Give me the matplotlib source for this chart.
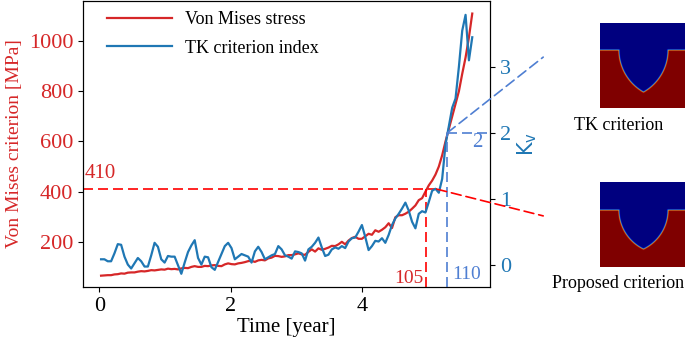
import matplotlib
matplotlib.use("Agg")

import matplotlib.pyplot as plt
import numpy as np
from matplotlib.patches import ConnectionPatch

# ── data ─────────────────────────────────────────────
von_mises = [
    65, 66, 67, 67, 70, 71, 74, 73, 77, 78,
    78, 81, 83, 82, 84, 87, 86, 88, 90, 89,
    93, 91, 92, 90, 94, 96, 95, 100, 103, 100,
    100, 104, 103, 106, 107, 104, 103, 110, 114, 111,
    110, 114, 116, 119, 123, 124, 120, 126, 128, 126,
    134, 137, 144, 143, 140, 142, 147, 147, 150, 154,
    150, 148, 160, 170, 161, 174, 168, 172, 177, 184,
    183, 190, 200, 190, 205, 215, 220, 212, 212, 222,
    232, 228, 246, 240, 248, 258, 274, 255, 298, 306,
    306, 312, 320, 332, 345, 366, 374, 400, 425, 444,
    468, 500, 545, 600, 650, 700, 750, 800, 870, 935,
    1015, 1110,
]
tk_index = [
    0.08, 0.08, 0.05, 0.05, 0.17, 0.31, 0.30, 0.12, 0.00, -0.06,
    0.02, 0.10, 0.05, -0.03, -0.03, 0.14, 0.33, 0.27, 0.08, 0.03,
    0.13, 0.12, 0.12, -0.01, -0.14, 0.03, 0.19, 0.29, 0.37, 0.10,
    0.00, 0.12, 0.11, -0.04, -0.08, 0.04, 0.16, 0.28, 0.33, 0.25,
    0.08, 0.12, 0.16, 0.14, 0.12, 0.03, 0.20, 0.27, 0.19, 0.08,
    0.11, 0.14, 0.16, 0.28, 0.23, 0.14, 0.12, 0.09, 0.20, 0.19,
    0.17, 0.06, 0.23, 0.27, 0.33, 0.41, 0.26, 0.13, 0.15, 0.23,
    0.26, 0.24, 0.28, 0.25, 0.35, 0.40, 0.41, 0.50, 0.60, 0.42,
    0.22, 0.28, 0.36, 0.35, 0.40, 0.33, 0.45, 0.60, 0.70, 0.77,
    0.85, 0.94, 0.82, 0.65, 0.55, 0.77, 0.81, 0.79, 0.95, 1.12,
    1.15, 1.09, 1.30, 1.82, 2.10, 2.38, 2.52, 3.00, 3.55, 3.79,
    3.10, 3.45,
]
time_start, time_end = 0.025, 5.68
time = np.linspace(time_start, time_end, len(von_mises))

vm_threshold = 410      # MPa
t_vm, t_tk = 4.98, 5.30  # crossing times
kv_threshold = 2
label_vm, label_tk = "105", "110"

# notch geometry of the two snapshots (pixels: band, left, right, depth)
notch_tk = (27, 19, 68, 42)
notch_prop = (28, 19, 68, 39)

RED = "#d62728"
BLUE = "#1f77b4"
LBLUE = "#4f7fd2"

plt.rcParams["font.family"] = ["Liberation Serif", "DejaVu Serif"]
plt.rcParams["mathtext.fontset"] = "dejavusans"

fig = plt.figure(figsize=(6.85, 3.4), dpi=100)
ax = fig.add_axes([0.1212, 0.156, 0.5941, 0.841])
ax2 = ax.twinx()

l1, = ax.plot(time, von_mises, color=RED, lw=1.6, label="Von Mises stress")
l2, = ax2.plot(time, tk_index, color=BLUE, lw=1.6, label="TK criterion index")

ax.set_xlim(-0.25, 5.95)
ax.set_ylim(20, 1160)
ax2.set_ylim(-0.34, 4.0)
ax.set_xticks([0, 2, 4])
ax.set_yticks([200, 400, 600, 800, 1000])
ax2.set_yticks([0, 1, 2, 3])
ax.tick_params(labelsize=16)
ax.tick_params(axis="y", labelcolor=RED)
ax2.tick_params(axis="y", labelsize=16, labelcolor=BLUE)

ax.set_xlabel("Time [year]", fontsize=15, labelpad=2)
ax.set_ylabel("Von Mises criterion [MPa]", fontsize=14, color=RED, labelpad=4)
ax2.set_ylabel(r"$\mathrm{K_v}$", fontsize=15, color=BLUE, labelpad=3)

ax.legend([l1, l2], [l1.get_label(), l2.get_label()], loc="upper left",
          frameon=False, fontsize=13, handlelength=3.6, handletextpad=0.7,
          labelspacing=0.65, bbox_to_anchor=(0.02, 1.022))

dash = dict(lw=1.2, dashes=(6, 3), clip_on=False)

# von Mises threshold
ax.plot([-0.25, 5.14], [vm_threshold, vm_threshold], color="red", **dash)
ax.plot([t_vm, t_vm], [20, vm_threshold], color="red", **dash)
ax.text(-0.23, 433, str(vm_threshold), color=RED, fontsize=15, va="bottom")
ax.text(4.93, 36, label_vm, color=RED, fontsize=14, ha="right", va="baseline")
con = ConnectionPatch(xyA=(5.14, vm_threshold), coordsA=ax.transData,
                      xyB=(0.793, 0.365), coordsB=fig.transFigure,
                      color="red", lw=1.2, linestyle=(0, (6, 3)))
fig.add_artist(con)

# TK threshold
ax2.plot([t_tk, t_tk], [-0.34, kv_threshold], color=LBLUE, **dash)
ax2.plot([t_tk, 5.95], [kv_threshold, kv_threshold], color=LBLUE, **dash)
ax2.text(5.37, -0.22, label_tk, color=LBLUE, fontsize=14, ha="left", va="baseline")
ax2.text(5.75, 1.78, str(kv_threshold), color=LBLUE, fontsize=15, ha="center",
         va="baseline")
con = ConnectionPatch(xyA=(t_tk, kv_threshold), coordsA=ax2.transData,
                      xyB=(0.793, 0.832), coordsB=fig.transFigure,
                      color=LBLUE, lw=1.2, linestyle=(0, (6, 3)))
fig.add_artist(con)


def notch_field(band, left, right, depth, w=86, h=85, n=4):
    """Phase field of a pointed-arch notch (0 = void, 1 = material)."""
    xs = (np.arange(w * n) + 0.5) / n
    ys = (np.arange(h * n) + 0.5) / n
    X, Y = np.meshgrid(xs, ys)
    half = (right - left) / 2
    R = (half ** 2 + depth ** 2) / (2 * half)
    dL = np.hypot(X - (left + R), Y - band) - R
    dR = np.hypot(X - (right - R), Y - band) - R
    s = np.minimum(Y - band, np.maximum(dL, dR))
    return 0.5 * (1 + np.tanh(s / 0.5))


for rect, geom, caption, cy in [
    ([0.876, 0.682, 0.1255, 0.25], notch_tk, "TK criterion", 126),
    ([0.876, 0.215, 0.1255, 0.25], notch_prop, "Proposed criterion", 284),
]:
    iax = fig.add_axes(rect)
    iax.imshow(notch_field(*geom), cmap="jet", vmin=0, vmax=1,
               aspect="auto", interpolation="bilinear")
    iax.axis("off")
    fig.text(0.903, 1 - cy / 340, caption, fontsize=13, ha="center", va="center")

fig.savefig("out.png", dpi=100)
